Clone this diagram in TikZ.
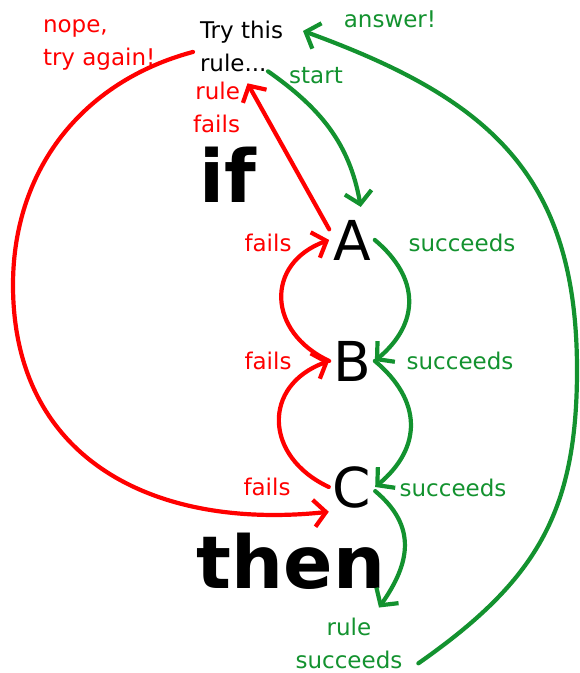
\documentclass[tikz,border=0pt]{standalone}
\usepackage{fontspec}
\setmainfont{DejaVu Sans}
\usetikzlibrary{arrows.meta,positioning,calc}
\definecolor{ruleRed}{HTML}{FF0000}
\definecolor{ruleGreen}{HTML}{13922F}
\tikzset{
  tryRule/.style={
    x=1pt, y=1pt,
    every node/.style={inner sep=0pt, outer sep=0pt},
    line cap=round, line join=round,
    line width=4.2pt,
  },
  noteText/.style={font=\fontsize{23}{33}\selectfont, text=black},
  noteRed/.style={noteText, text=ruleRed},
  noteGreen/.style={noteText, text=ruleGreen},
  keyword/.style={font=\fontsize{73}{73}\selectfont\bfseries, anchor=base},
  goalLetter/.style={font=\fontsize{55}{55}\selectfont, inner sep=4pt, anchor=base},
  failFlow/.style={-{Straight Barb[length=12pt, width=27pt]}, ruleRed},
  passFlow/.style={-{Straight Barb[length=12pt, width=27pt]}, ruleGreen},
}

\begin{document}
\begin{tikzpicture}[tryRule]

\useasboundingbox (0,0) rectangle (580,-673);

% ============================================================
% TEXT: the rule, the goals A, B, C and the two keywords
% (multi-line nodes sit on the baseline of their last line)
% ============================================================
\node[noteText, anchor=base west, align=left] (try) at (200,-71)
  {Try this\\rule...};
\node[noteRed, anchor=base west, align=left] (nope) at (43,-65)
  {nope,\\try again!};
\node[noteRed, anchor=base east, align=right] (rulefails) at (240,-132)
  {rule\\fails};
\node[noteGreen, anchor=base] (start) at (316,-83) {start};
\node[noteGreen, anchor=base] (answer) at (390,-27) {answer!};

\node[keyword] (ifword) at (228,-202) {if};
\node[keyword] (thenword) at (291,-588) {then};

% goals, one above the other
\node[goalLetter] (A) at (352,-260) {A};
\node[goalLetter] (B) at (352,-381) {B};
\node[goalLetter] (C) at (352,-507) {C};

\node[noteRed, anchor=base] (failA) at (268,-251) {fails};
\node[noteRed, anchor=base] (failB) at (268,-369) {fails};
\node[noteRed, anchor=base] (failC) at (267,-495) {fails};
\node[noteGreen, anchor=base] (passA) at (462,-251) {succeeds};
\node[noteGreen, anchor=base] (passB) at (460,-369) {succeeds};
\node[noteGreen, anchor=base] (passC) at (453,-496) {succeeds};

\node[noteGreen, anchor=base, align=center] (rulesucc) at (349,-668)
  {rule\\succeeds};

% ============================================================
% ARROWS
% ============================================================
\coordinate (nopeLeft) at (13,-285);
\coordinate (answerRight) at (577,-370);

% start, then down the chain of goals
\draw[passFlow] ([xshift=-15pt]try.south east)
  to[out=-35, in=100] ([yshift=9pt]A.70);
\draw[passFlow] (A.east) to[out=-40, in=40, looseness=1.25] (B.east);
\draw[passFlow] (B.east) to[out=-40, in=40, looseness=1.25] (C.east);
\draw[passFlow] (C.-10)
  to[out=-40, in=55, looseness=1.2] ([shift={(30pt,10pt)}]rulesucc.north);

% backtracking
\draw[failFlow] (B.west) to[out=155, in=200, looseness=1.45] (A.west);
\draw[failFlow] (C.west) to[out=155, in=200, looseness=1.45] (B.west);
\draw[failFlow] (A.155) -- ([shift={(6pt,-12pt)}]try.south);

% big loops: retry and answer
\draw[failFlow] ([shift={(-7pt,-6pt)}]try.west)
  to[out=195, in=90] (nopeLeft)
  to[out=-90, in=186, looseness=1.15] (C.south west);
\draw[passFlow] ([shift={(16pt,5pt)}]rulesucc.south east)
  to[out=35, in=-90, looseness=1.1] (answerRight)
  to[out=90, in=-20, looseness=1.15] ([shift={(20pt,15pt)}]try.east);

\end{tikzpicture}
\end{document}
